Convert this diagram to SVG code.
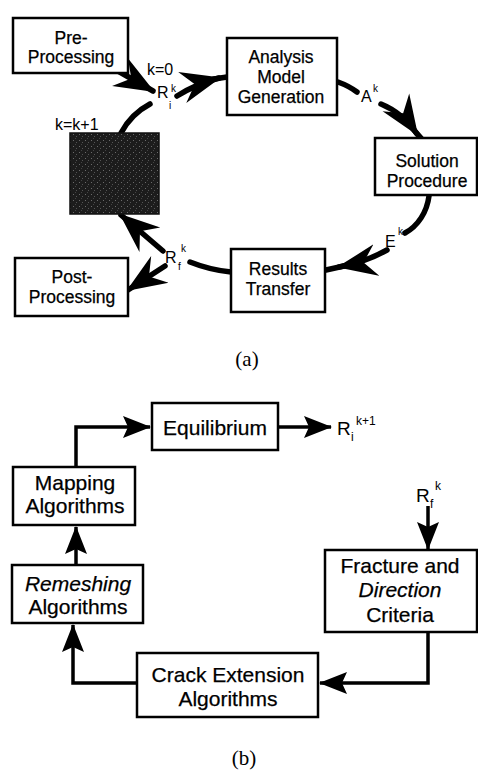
<svg xmlns="http://www.w3.org/2000/svg" width="478" height="772" viewBox="0 0 478 772">
<style>
.box{fill:#fff;stroke:#000;stroke-width:2.5}
.t{font-family:"Liberation Sans",Arial,sans-serif;font-size:17.5px;fill:#000;stroke:#000;stroke-width:0.25;text-anchor:middle}
.tb{font-family:"Liberation Sans",Arial,sans-serif;font-size:21px;fill:#000;stroke:#000;stroke-width:0.25;text-anchor:middle}
.lab{font-family:"Liberation Sans",Arial,sans-serif;fill:#000}
.cap{font-family:"Liberation Serif","Times New Roman",serif;font-size:21px;fill:#000;text-anchor:middle}
.ca{fill:none;stroke:#000;stroke-width:5.5;stroke-linecap:round}
.cb{fill:none;stroke:#000;stroke-width:3.5}
</style>
<defs>
<marker id="ha" markerUnits="userSpaceOnUse" viewBox="0 0 40 34" refX="38" refY="17" markerWidth="40" markerHeight="34" orient="auto">
<path d="M0,1 L40,17 L0,33 L13,17 Z" fill="#000"/>
</marker>
<marker id="hb" markerUnits="userSpaceOnUse" viewBox="0 0 28 22" refX="27" refY="11" markerWidth="28" markerHeight="22" orient="auto">
<path d="M0,0 L28,11 L0,22 L5,11 Z" fill="#000"/>
</marker>
<pattern id="speck" width="6" height="6" patternUnits="userSpaceOnUse">
<rect width="6" height="6" fill="#1c1c1c"/>
<rect x="1" y="2" width="1" height="1" fill="#6a6a6a"/>
<rect x="4" y="4" width="1" height="1" fill="#555"/>
<rect x="3" y="0" width="1" height="1" fill="#444"/>
</pattern>
</defs>

<g id="connectors">
<path class="ca" d="M118,71 L153,91" marker-end="url(#ha)"/>
<path class="ca" d="M177,96 Q196,84 219,78" marker-end="url(#ha)"/>
<path class="ca" d="M214,79 L227,77"/>
<path class="ca" d="M338,82 Q349,86 357,92"/>
<path class="ca" d="M381,104 Q403,113 417,134" marker-end="url(#ha)"/>
<path class="ca" d="M413,129 L421,138"/>
<path class="ca" d="M429,196 C427,212 418,226 405,233"/>
<path class="ca" d="M387,250 Q366,262 339,267" marker-end="url(#ha)"/>
<path class="ca" d="M344,266 L326,270"/>
<path class="ca" d="M231,272 Q210,270 190,262"/>
<path class="ca" d="M163,251 L121,215" marker-end="url(#ha)"/>
<path class="ca" d="M165,266 L128,290" marker-end="url(#ha)"/>
<path class="ca" d="M121,133 Q131,114 150,104"/>

<path class="cb" d="M76,467 L76,427 L150,427" marker-end="url(#hb)"/>
<path class="cb" d="M278,427 L331,427" marker-end="url(#hb)"/>
<path class="cb" d="M76,565 L76,527" marker-end="url(#hb)"/>
<path class="cb" d="M137,683 L73,683 L73,625" marker-end="url(#hb)"/>
<path class="cb" d="M428,506 L428,549" marker-end="url(#hb)"/>
<path class="cb" d="M428,632 L428,683 L320,683" marker-end="url(#hb)"/>
</g>

<g id="pre">
<rect class="box" x="13" y="18" width="115" height="55"/>
<text class="t" x="71" y="44">Pre-</text>
<text class="t" x="71" y="63">Processing</text>
</g>
<g id="analysis">
<rect class="box" x="227" y="38" width="110" height="77"/>
<text class="t" x="281" y="63">Analysis</text>
<text class="t" x="281" y="83">Model</text>
<text class="t" x="281" y="103">Generation</text>
</g>
<g id="solution">
<rect class="box" x="375" y="138" width="102" height="57"/>
<text class="t" x="427" y="167">Solution</text>
<text class="t" x="427" y="187">Procedure</text>
</g>
<g id="results">
<rect class="box" x="231" y="249" width="94" height="63"/>
<text class="t" x="278" y="275">Results</text>
<text class="t" x="278" y="295">Transfer</text>
</g>
<g id="post">
<rect class="box" x="15" y="258" width="113" height="58"/>
<text class="t" x="72" y="283">Post-</text>
<text class="t" x="72" y="303">Processing</text>
</g>
<g id="dark">
<rect x="70" y="133" width="89" height="81" fill="url(#speck)" stroke="#111" stroke-width="1.5"/>
</g>

<g id="labels-a">
<text class="lab" x="147" y="75" font-size="16">k=0</text>
<text class="lab" x="55" y="130" font-size="16">k=k+1</text>
<text class="lab" x="157" y="98" font-size="16">R</text>
<text class="lab" x="169" y="109" font-size="10">i</text>
<text class="lab" x="171" y="92" font-size="10">k</text>
<text class="lab" x="361" y="102" font-size="16">A</text>
<text class="lab" x="373" y="92" font-size="10">k</text>
<text class="lab" x="385" y="247" font-size="16">E</text>
<text class="lab" x="398" y="235" font-size="10">k</text>
<text class="lab" x="165" y="263" font-size="16">R</text>
<text class="lab" x="178" y="270" font-size="10">f</text>
<text class="lab" x="181" y="252" font-size="10">k</text>
</g>
<text class="cap" x="247" y="366">(a)</text>

<g id="equilibrium">
<rect class="box" x="152" y="403" width="126" height="47"/>
<text class="tb" x="215" y="435">Equilibrium</text>
</g>
<g id="mapping">
<rect class="box" x="13" y="467" width="122" height="58"/>
<text class="tb" x="75" y="490">Mapping</text>
<text class="tb" x="75" y="513">Algorithms</text>
</g>
<g id="remeshing">
<rect class="box" x="12" y="565" width="131" height="58"/>
<text class="tb" x="78" y="591" font-style="italic">Remeshing</text>
<text class="tb" x="78" y="614">Algorithms</text>
</g>
<g id="crack">
<rect class="box" x="137" y="653" width="181" height="64"/>
<text class="tb" x="228" y="682">Crack Extension</text>
<text class="tb" x="228" y="706">Algorithms</text>
</g>
<g id="fracture">
<rect class="box" x="325" y="550" width="152" height="82"/>
<text class="tb" x="400" y="573">Fracture and</text>
<text class="tb" x="400" y="597" font-style="italic">Direction</text>
<text class="tb" x="400" y="622">Criteria</text>
</g>
<g id="labels-b">
<text class="lab" x="337" y="435" font-size="19">R</text>
<text class="lab" x="351" y="441" font-size="12">i</text>
<text class="lab" x="356" y="425" font-size="12">k+1</text>
<text class="lab" x="416" y="502" font-size="19">R</text>
<text class="lab" x="430" y="508" font-size="12">f</text>
<text class="lab" x="435" y="490" font-size="12">k</text>
</g>
<text class="cap" x="244" y="765">(b)</text>
</svg>
